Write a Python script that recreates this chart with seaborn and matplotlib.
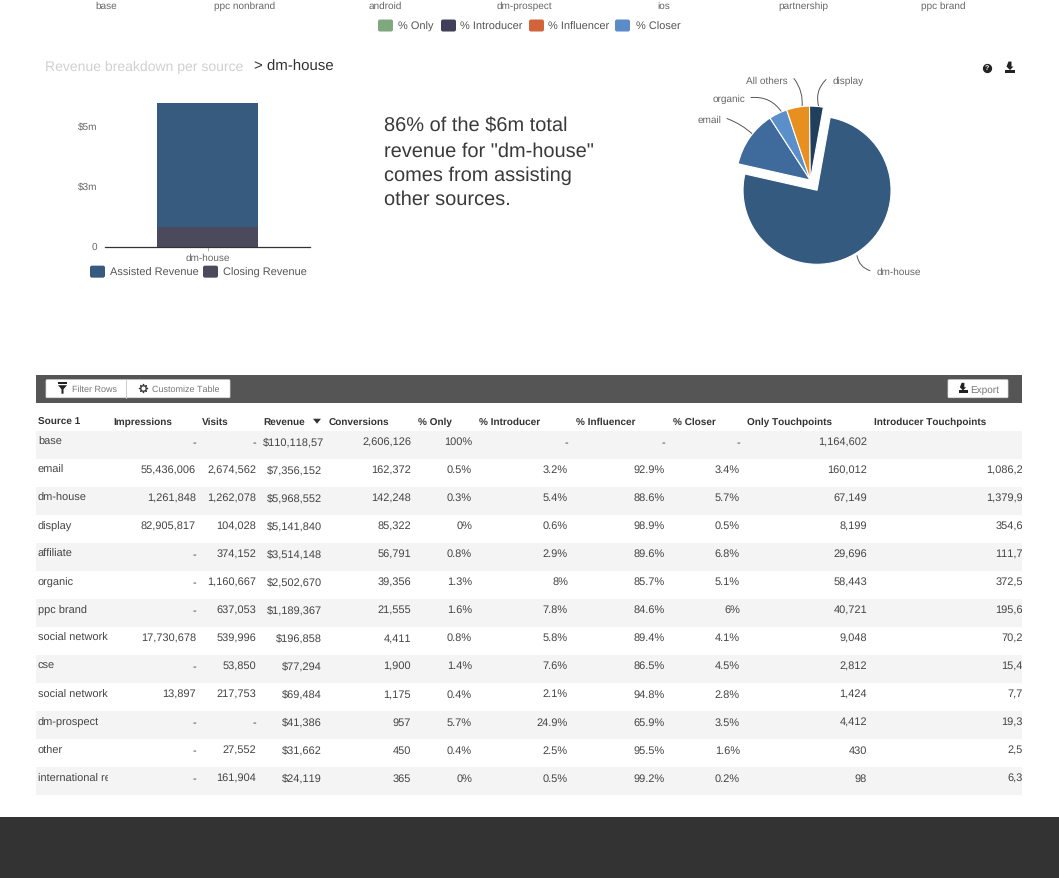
import numpy as np
import matplotlib
matplotlib.use('Agg')
import matplotlib.pyplot as plt
import seaborn as sns
from matplotlib.patches import Rectangle, FancyBboxPatch, Polygon

# === DATA ===
TOP_CATEGORIES = ['base', 'ppc nonbrand', 'android', 'dm-prospect', 'ios', 'partnership', 'ppc brand']
TOP_LEGEND = ['% Only', '% Introducer', '% Influencer', '% Closer']

BAR_SOURCE = ['dm-house']
ASSISTED_M = [5.17]
CLOSING_M = [0.80]
BAR_TICKS_M = [0, 2.5, 5]
BAR_TICK_LABELS = ['0', '$3m', '$5m']
BAR_LEGEND = ['Assisted Revenue', 'Closing Revenue']

PIE_LABELS = ['dm-house', 'email', 'organic', 'All others', 'display']
PIE_VALUES = [75.7, 12.3, 4.0, 5.0, 3.0]

HEADERS = ['Source 1', 'Impressions', 'Visits', 'Revenue', 'Conversions', '% Only', '% Introducer',
           '% Influencer', '% Closer', 'Only Touchpoints', 'Introducer Touchpoints']
SOURCES = ['base', 'email', 'dm-house', 'display', 'affiliate', 'organic', 'ppc brand', 'social network ads',
           'cse', 'social network site', 'dm-prospect', 'other', 'international referral']
IMPRESSIONS = ['-', '55,436,006', '1,261,848', '82,905,817', '-', '-', '-', '17,730,678', '-', '13,897', '-', '-', '-']
VISITS = ['-', '2,674,562', '1,262,078', '104,028', '374,152', '1,160,667', '637,053', '539,996', '53,850',
          '217,753', '-', '27,552', '161,904']
REVENUE = ['$110,118,570', '$7,356,152', '$5,968,552', '$5,141,840', '$3,514,148', '$2,502,670', '$1,189,367',
           '$196,858', '$77,294', '$69,484', '$41,386', '$31,662', '$24,119']
CONVERSIONS = ['2,606,126', '162,372', '142,248', '85,322', '56,791', '39,356', '21,555', '4,411', '1,900',
               '1,175', '957', '450', '365']
PCT_ONLY = ['100%', '0.5%', '0.3%', '0%', '0.8%', '1.3%', '1.6%', '0.8%', '1.4%', '0.4%', '5.7%', '0.4%', '0%']
PCT_INTRO = ['-', '3.2%', '5.4%', '0.6%', '2.9%', '8%', '7.8%', '5.8%', '7.6%', '2.1%', '24.9%', '2.5%', '0.5%']
PCT_INFL = ['-', '92.9%', '88.6%', '98.9%', '89.6%', '85.7%', '84.6%', '89.4%', '86.5%', '94.8%', '65.9%',
            '95.5%', '99.2%']
PCT_CLOSER = ['-', '3.4%', '5.7%', '0.5%', '6.8%', '5.1%', '6%', '4.1%', '4.5%', '2.8%', '3.5%', '1.6%', '0.2%']
ONLY_TP = ['1,164,602', '160,012', '67,149', '8,199', '29,696', '58,443', '40,721', '9,048', '2,812', '1,424',
           '4,412', '430', '98']
INTRO_TP = ['', '1,086,200', '1,379,900', '354,600', '111,700', '372,500', '195,600', '70,200', '15,400', '7,700',
            '19,300', '2,500', '6,300']

# === STYLE ===
W, H = 1059, 878
sns.set_theme(style='white')
plt.rcParams['font.family'] = ['Liberation Sans', 'DejaVu Sans']
plt.rcParams['text.hinting'] = 'no_hinting'
plt.rcParams['text.hinting_factor'] = 1


def pt(px):
    return px * 0.72


GREY = '#555555'
DARK = '#333333'

# the half pixel stops the canvas height being floored to 877
fig = plt.figure(figsize=(W / 100, (H + 0.5) / 100), dpi=100, facecolor='white')

# overlay in pixel coordinates for page furniture
page = fig.add_axes([0, 0, 1, 1], zorder=0)
page.set_xlim(0, W)
page.set_ylim(H, 0)
page.axis('off')


def swatch(x, y, w=15, h=12, color='#000000'):
    page.add_patch(FancyBboxPatch((x + 2, y - h / 2 + 2), w - 4, h - 4, boxstyle='round,pad=2',
                                  fc=color, ec='none'))


def download_icon(x, y, size=1.0):
    page.add_patch(Polygon([(x - 1.5 * size, y - 6 * size), (x + 1.5 * size, y - 6 * size),
                            (x + 1.5 * size, y - 1 * size), (x + 3.5 * size, y - 1 * size),
                            (x, y + 2.5 * size), (x - 3.5 * size, y - 1 * size)], fc='#222222', ec='none'))
    page.add_patch(Rectangle((x - 5 * size, y + 2.5 * size), 10 * size, 3 * size, fc='#222222', ec='none'))


# === TOP STRIP ===
for x, name in zip([106, 245, 385, 524, 664, 803, 943], TOP_CATEGORIES):
    page.text(x, 8.5, name, ha='center', va='baseline', fontsize=pt(10), color='#666666')
for x_sw, x_txt, name, color in zip([378, 441, 529, 615], [398, 460, 548, 636], TOP_LEGEND,
                                    ['#7fa87f', '#3f4057', '#d2643c', '#5b8cc8']):
    swatch(x_sw, 26, color=color)
    page.text(x_txt, 30, name, ha='left', va='baseline', fontsize=pt(11), color=GREY)

# === TITLE ===
page.text(45, 71, 'Revenue breakdown per source', ha='left', va='baseline', fontsize=pt(14.4), color='#d0d0d0')
page.text(254, 71, '> dm-house', ha='left', va='baseline', fontsize=pt(15.4), color=DARK)
page.scatter([987], [68], s=32, color='#222222', zorder=3)
page.text(987, 68, '?', ha='center', va='center', fontsize=pt(7), color='white', fontweight='bold', zorder=4)
download_icon(1010, 68)

# === STACKED BAR ===
bar_ax = fig.add_axes([105 / W, 1 - 247 / H, 205 / W, 147 / H], zorder=2, facecolor='none')
sns.barplot(x=BAR_SOURCE, y=np.array(ASSISTED_M) + np.array(CLOSING_M), color='#375a7f', saturation=1,
            width=0.488, edgecolor='none', linewidth=0, ax=bar_ax)
sns.barplot(x=BAR_SOURCE, y=CLOSING_M, color='#4a4a5c', saturation=1, width=0.488, edgecolor='none',
            linewidth=0, ax=bar_ax)
bar_ax.set_xlim(-0.5, 0.5)
bar_ax.set_ylim(0, 147 / 24)
bar_ax.set_yticks(BAR_TICKS_M, BAR_TICK_LABELS)
bar_ax.tick_params(axis='y', length=0, pad=5.5, labelsize=pt(10.5), labelcolor='#666666')
bar_ax.tick_params(axis='x', length=3, width=0.6, color='#aaaaaa', pad=2, labelsize=pt(10), labelcolor='#666666',
                   bottom=True)
sns.despine(ax=bar_ax, left=True)
bar_ax.spines['bottom'].set_color(DARK)
bar_ax.spines['bottom'].set_linewidth(0.9)
bar_ax.set_xlabel('')
bar_ax.set_ylabel('')
for x_sw, x_txt, name, color in zip([90, 203], [110, 223], BAR_LEGEND, ['#375a7f', '#4a4a5c']):
    swatch(x_sw, 272, color=color)
    page.text(x_txt, 276, name, ha='left', va='baseline', fontsize=pt(10.8), color=GREY)

# === CALLOUT ===
for y, line in zip([132, 157, 181, 205], ['86% of the $6m total', 'revenue for "dm-house"',
                                          'comes from assisting', 'other sources.']):
    page.text(384, y, line, ha='left', va='baseline', fontsize=pt(20.2), color='#3a3a3a')

# === PIE ===
PIE_R = 74
PIE_BOX = 100
pie_cx, pie_cy = 810.3, 180.5
pie_ax = fig.add_axes([(pie_cx - PIE_BOX) / W, 1 - (pie_cy + PIE_BOX) / H, 2 * PIE_BOX / W, 2 * PIE_BOX / H],
                      zorder=2, facecolor='none')
pie_ax.pie(PIE_VALUES, colors=['#355a80', '#3f6a9c', '#5b8fc9', '#e8901f', '#1f3f5c'],
           explode=[0.165, 0, 0, 0, 0], startangle=79.8, counterclock=False, radius=1,
           wedgeprops={'edgecolor': 'white', 'linewidth': 0.8})
pie_ax.set_xlim(-PIE_BOX / PIE_R, PIE_BOX / PIE_R)
pie_ax.set_ylim(-PIE_BOX / PIE_R, PIE_BOX / PIE_R)

# label anchor (text side), wedge end, alignment, curvature
pie_callouts = {
    'display': ((833, 84), (826, 80), (819, 108), 'left', 0.3),
    'All others': ((788, 84), (794, 79), (802, 108), 'right', -0.2),
    'organic': ((745, 102), (751, 98), (782, 113), 'right', -0.3),
    'email': ((721, 123), (727, 119), (753, 135), 'right', -0.1),
    'dm-house': ((877, 275), (870, 271), (857, 256), 'left', -0.3),
}
for name in PIE_LABELS:
    txt_xy, start, end, align, rad = pie_callouts[name]
    page.text(txt_xy[0], txt_xy[1], name, ha=align, va='baseline', fontsize=pt(10.3), color='#666666')
    page.annotate('', xy=end, xytext=start, arrowprops=dict(arrowstyle='-', color='#555555', lw=0.7,
                                                            connectionstyle=f'arc3,rad={rad}',
                                                            shrinkA=0, shrinkB=0))

# === TABLE ===
page.add_patch(Rectangle((36, 375), 986, 28, fc='#555555', ec='none'))
page.add_patch(FancyBboxPatch((47, 381), 182, 16, boxstyle='round,pad=1', fc='white', ec='#dddddd', lw=0.5))
page.plot([126, 126], [380, 398], color='#cccccc', lw=0.7)
page.add_patch(FancyBboxPatch((949, 381), 58, 16, boxstyle='round,pad=1', fc='white', ec='#dddddd', lw=0.5))
page.add_patch(Polygon([(58, 385.5), (67, 385.5), (63.5, 389.5), (63.5, 394), (61.5, 394), (61.5, 389.5)],
                       fc='#222222', ec='none'))
page.add_patch(Rectangle((58, 382.5), 9, 1.6, fc='#222222', ec='none'))
page.scatter([142.5], [388.5], s=34, marker=(8, 1, 0), color='#333333', zorder=3)
page.scatter([142.5], [388.5], s=4, color='white', zorder=4)
download_icon(963, 388.5, size=0.9)
page.text(72, 392, 'Filter Rows', ha='left', va='baseline', fontsize=pt(9.3), color='#777777')
page.text(152, 392, 'Customize Table', ha='left', va='baseline', fontsize=pt(9.3), color='#777777')
page.text(970, 392.5, 'Export', ha='left', va='baseline', fontsize=pt(10), color='#777777')

for x, name in zip([38, 113, 202, 263, 329, 418, 479, 576, 673, 747, 874], HEADERS):
    page.text(x, 425, name, ha='left', va='baseline', fontsize=pt(10.2), color=DARK, fontweight='bold')
page.add_patch(Polygon([(313, 419), (321, 419), (317, 424)], fc='#333333', ec='none'))

ROW_TOP, ROW_H = 431, 28
for i in range(0, len(SOURCES), 2):
    page.add_patch(Rectangle((36, ROW_TOP + i * ROW_H), 986, ROW_H, fc='#f4f4f4', ec='none'))

# columns: values, text anchor, alignment, right clip edge
columns = [
    (SOURCES, 38, 'left', 108), (IMPRESSIONS, 196, 'right', None), (VISITS, 256, 'right', None),
    (REVENUE, 263, 'left', 323), (CONVERSIONS, 411, 'right', None), (PCT_ONLY, 472, 'right', None),
    (PCT_INTRO, 568, 'right', None), (PCT_INFL, 665, 'right', None), (PCT_CLOSER, 740, 'right', None),
    (ONLY_TP, 867, 'right', None), (INTRO_TP, 1035, 'right', 1022),
]
for values, x, align, clip_x in columns:
    for i, value in enumerate(values):
        y = ROW_TOP + ROW_H * i + 14
        # revenue sits right-aligned except for the one value that overflows its cell
        if values is REVENUE and i > 0:
            item = page.text(322, y, value, ha='right', va='baseline', fontsize=pt(11.5), color='#444444')
        else:
            item = page.text(x, y, value, ha=align, va='baseline', fontsize=pt(11.5), color='#444444')
        if clip_x is not None:
            clip = Rectangle((0, 0), clip_x, H, transform=page.transData)
            item.set_clip_path(clip)
            item.set_clip_on(True)

# === FOOTER ===
page.add_patch(Rectangle((0, 817), W, 61, fc='#333333', ec='none'))

plt.savefig('out.png', dpi=100)
plt.close()
